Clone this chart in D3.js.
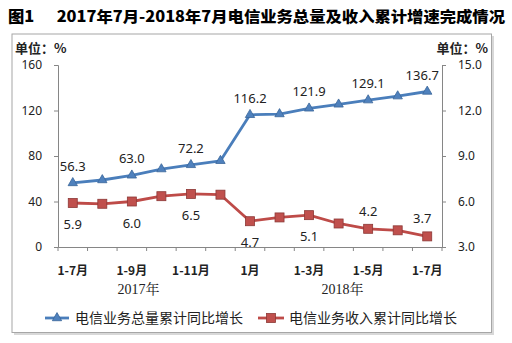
<!DOCTYPE html>
<html><head><meta charset="utf-8">
<script src="https://cdn.jsdelivr.net/npm/d3@7"></script>
<style>body{margin:0;background:#fff;}svg{display:block;}</style>
</head><body>
<script>
const categories = ["1-7月","1-8月","1-9月","1-10月","1-11月","1-12月","1月","1-2月","1-3月","1-4月","1-5月","1-6月","1-7月"];
const volumeGrowth = [56.3,58.9,63.0,68.5,72.2,75.8,116.2,116.9,121.9,125.4,129.1,132.6,136.7];
const revenueGrowth = [5.9,5.85,6.0,6.35,6.5,6.45,4.7,4.95,5.1,4.55,4.2,4.1,3.7];
const volumeLabelIdx = [0,2,4,6,8,10,12];
const revenueLabelIdx = [0,2,4,6,8,10,12];
const revenueLabelAbove = [false,false,false,false,false,true,true];
const leftTicks = [0,40,80,120,160];
const rightTicks = [3,6,9,12,15];
const shownXLabels = [0,2,4,6,8,10,12];
const years = [{label:"2017年",from:0,to:5},{label:"2018年",from:6,to:12}];
const seriesNames = ["电信业务总量累计同比增长","电信业务收入累计同比增长"];
const titleText = "图1\u00a0\u00a0\u00a0\u00a0\u00a0\u00a02017年7月-2018年7月电信业务总量及收入累计增速完成情况";

const W=512,H=343;
const blue="#4A7EBB", red="#BE4B48", axisC="#868686";
const svg=d3.select("body").append("svg").attr("width",W).attr("height",H);
svg.append("rect").attr("width",W).attr("height",H).attr("fill","#fff");

// title
svg.append("text").attr("x",8).attr("y",22).attr("font-family","Noto Sans CJK SC").attr("font-weight","900")
  .attr("font-size",15).attr("fill","#000").attr("textLength",497).attr("lengthAdjust","spacingAndGlyphs").text(titleText);

// frame with shadow
svg.append("rect").attr("x",14).attr("y",36).attr("width",480).attr("height",299).attr("fill","#d8d8d8");
svg.append("rect").attr("x",12).attr("y",34).attr("width",479.5).attr("height",298.5).attr("fill","#fff").attr("stroke","#A6A6A6").attr("stroke-width",1);

const x=d3.scaleBand().domain(d3.range(categories.length)).range([58,442]);
const cx=i=>x(i)+x.bandwidth()/2;
const yL=d3.scaleLinear().domain([0,160]).range([247,65]);
const yR=d3.scaleLinear().domain([3,15]).range([247,65]);

const numFont="Noto Sans";
const gL=svg.append("g").attr("transform","translate(58,0)").call(d3.axisLeft(yL).tickValues(leftTicks).tickSize(4).tickPadding(12));
const gR=svg.append("g").attr("transform","translate(442,0)").call(d3.axisRight(yR).tickValues(rightTicks).tickSize(4).tickPadding(12).tickFormat(d3.format(".1f")));
const gX=svg.append("g").attr("transform","translate(0,247)").call(d3.axisBottom(x).tickValues([]).tickSizeOuter(0));
[gL,gR,gX].forEach(g=>{g.select(".domain").attr("stroke",axisC);g.selectAll(".tick line").attr("stroke",axisC);
  g.selectAll("text").attr("font-family",numFont).attr("font-size",12).attr("fill","#222");});
gX.selectAll("line.bt").data(d3.range(categories.length+1)).join("line").attr("class","bt")
  .attr("x1",i=>i<categories.length?x(i):x(categories.length-1)+x.bandwidth()).attr("x2",i=>i<categories.length?x(i):x(categories.length-1)+x.bandwidth())
  .attr("y1",0).attr("y2",4).attr("stroke",axisC);

// x labels
svg.selectAll("text.xl").data(shownXLabels).join("text").attr("class","xl")
  .attr("x",i=>cx(i)).attr("y",275).attr("text-anchor","middle").attr("font-family","Noto Sans CJK SC")
  .attr("font-weight","bold").attr("font-size",12).attr("fill","#222").text(i=>categories[i]);
svg.selectAll("text.yr").data(years).join("text").attr("class","yr")
  .attr("x",d=>(x(d.from)+x(d.to)+x.bandwidth())/2-(d.from===0?8:-4)).attr("y",294).attr("text-anchor","middle")
  .attr("font-family","Liberation Serif, Noto Serif CJK SC, Noto Sans CJK SC").attr("font-size",14).attr("fill","#222").text(d=>d.label);

// unit labels
svg.append("text").attr("x",15).attr("y",53).attr("font-family","Noto Sans CJK SC").attr("font-weight","bold").attr("font-size",13).attr("fill","#222").text("单位：%");
svg.append("text").attr("x",488).attr("y",53).attr("text-anchor","end").attr("font-family","Noto Sans CJK SC").attr("font-weight","bold").attr("font-size",13).attr("fill","#222").text("单位：%");

// lines
const lineB=d3.line().x((d,i)=>cx(i)).y(d=>yL(d));
const lineR=d3.line().x((d,i)=>cx(i)).y(d=>yR(d));
svg.append("path").attr("d",lineB(volumeGrowth)).attr("fill","none").attr("stroke",blue).attr("stroke-width",2.8).attr("stroke-linejoin","round");
svg.append("path").attr("d",lineR(revenueGrowth)).attr("fill","none").attr("stroke",red).attr("stroke-width",2.8).attr("stroke-linejoin","round");
const tri=d3.symbol().type(d3.symbolTriangle).size(38);
svg.selectAll("path.mb").data(volumeGrowth).join("path").attr("class","mb")
  .attr("transform",(d,i)=>`translate(${cx(i)},${yL(d)})`).attr("d",tri()).attr("fill","#4F81BD").attr("stroke","#3A6699").attr("stroke-width",0.8);
svg.selectAll("rect.mr").data(revenueGrowth).join("rect").attr("class","mr")
  .attr("x",(d,i)=>cx(i)-4.5).attr("y",d=>yR(d)-4.5).attr("width",9).attr("height",9).attr("fill","#C0504D").attr("stroke","#8C3836").attr("stroke-width",0.8);

// data labels
const lastDx=i=>i===categories.length-1?-5:0;
svg.selectAll("text.lb").data(volumeLabelIdx).join("text").attr("class","lb")
  .attr("x",i=>cx(i)+lastDx(i)).attr("y",i=>yL(volumeGrowth[i])-12).attr("text-anchor","middle")
  .attr("font-family",numFont).attr("font-size",13).attr("fill","#222").text(i=>volumeGrowth[i].toFixed(1));
svg.selectAll("text.lr").data(revenueLabelIdx).join("text").attr("class","lr")
  .attr("x",i=>cx(i)+lastDx(i)).attr("y",(i,k)=>revenueLabelAbove[k]?yR(revenueGrowth[i])-13:yR(revenueGrowth[i])+26).attr("text-anchor","middle")
  .attr("font-family",numFont).attr("font-size",13).attr("fill","#222").text(i=>revenueGrowth[i].toFixed(1));

// legend
const lg=svg.append("g");
lg.append("line").attr("x1",45).attr("x2",69).attr("y1",318).attr("y2",318).attr("stroke",blue).attr("stroke-width",2.8);
lg.append("path").attr("transform","translate(57,318)").attr("d",tri()).attr("fill","#4F81BD").attr("stroke","#3A6699").attr("stroke-width",0.8);
lg.append("text").attr("x",75).attr("y",323).attr("font-family","Noto Sans CJK SC").attr("font-size",14).attr("fill","#222")
  .attr("textLength",168).attr("lengthAdjust","spacingAndGlyphs").text(seriesNames[0]);
lg.append("line").attr("x1",258).attr("x2",284).attr("y1",318).attr("y2",318).attr("stroke",red).attr("stroke-width",2.8);
lg.append("rect").attr("x",266.5).attr("y",313.5).attr("width",9).attr("height",9).attr("fill","#C0504D").attr("stroke","#8C3836").attr("stroke-width",0.8);
lg.append("text").attr("x",289).attr("y",323).attr("font-family","Noto Sans CJK SC").attr("font-size",14).attr("fill","#222")
  .attr("textLength",168).attr("lengthAdjust","spacingAndGlyphs").text(seriesNames[1]);
</script>
</body></html>
